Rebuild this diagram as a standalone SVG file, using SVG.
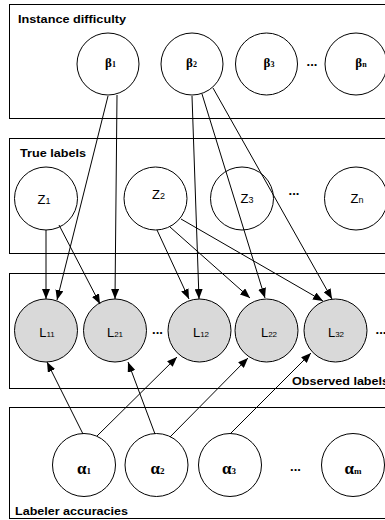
<svg xmlns="http://www.w3.org/2000/svg" width="385" height="520" viewBox="0 0 385 520">
<style>
.box{fill:#fff;stroke:#000;stroke-width:1}
.title{font-family:"Liberation Sans",Arial,sans-serif;font-weight:bold;font-size:11px;fill:#000}
.node{fill:#fff;stroke:#000;stroke-width:1}
.obs{fill:#d9d9d9;stroke:#000;stroke-width:1}
.gr{font-family:"Liberation Serif","Times New Roman",serif;font-weight:bold;fill:#000}
.lat{font-family:"Liberation Sans",Arial,sans-serif;fill:#000}
.dots{font-family:"Liberation Sans",Arial,sans-serif;font-weight:bold;font-size:13px;fill:#000}
.edge{stroke:#000;stroke-width:1;fill:none;marker-end:url(#ah)}
</style>
<defs>
<marker id="ah" markerUnits="userSpaceOnUse" markerWidth="11" markerHeight="8" refX="10" refY="4" orient="auto">
<path d="M0,0 L10,4 L0,8 z" fill="#000"/>
</marker>
</defs>
<rect width="385" height="520" fill="#fff"/>
<g id="plates">
<rect class="box" x="9.5" y="4.5" width="400" height="114"/>
<rect class="box" x="9.5" y="138.5" width="400" height="115"/>
<rect class="box" x="9.5" y="273.5" width="400" height="115"/>
<rect class="box" x="9.5" y="407.5" width="400" height="111"/>
<text class="title" x="18" y="23" textLength="108" lengthAdjust="spacingAndGlyphs">Instance difficulty</text>
<text class="title" x="20" y="157" textLength="66" lengthAdjust="spacingAndGlyphs">True labels</text>
<text class="title" x="292" y="385" textLength="97" lengthAdjust="spacingAndGlyphs">Observed labels</text>
<text class="title" x="15" y="515" textLength="113" lengthAdjust="spacingAndGlyphs">Labeler accuracies</text>
</g>
<g id="beta1"><circle class="node" cx="108" cy="64" r="31"/><text class="gr" x="110.5" y="67" font-size="13" text-anchor="middle">β<tspan font-size="8">1</tspan></text></g>
<g id="beta2"><circle class="node" cx="192" cy="64" r="31"/><text class="gr" x="191.5" y="67" font-size="13" text-anchor="middle">β<tspan font-size="8">2</tspan></text></g>
<g id="beta3"><circle class="node" cx="266.5" cy="64" r="31"/><text class="gr" x="269" y="67" font-size="13" text-anchor="middle">β<tspan font-size="8">3</tspan></text></g>
<g id="betan"><circle class="node" cx="356" cy="64" r="31"/><text class="gr" x="361" y="67" font-size="13" text-anchor="middle">β<tspan font-size="8">n</tspan></text></g>
<text class="dots" x="312" y="66" text-anchor="middle">...</text>
<g id="z1"><circle class="node" cx="46" cy="198.5" r="31.5"/><text class="lat" x="44" y="204" font-size="13" text-anchor="middle">Z<tspan font-size="9">1</tspan></text></g>
<g id="z2"><circle class="node" cx="155.5" cy="198.5" r="31.5"/><text class="lat" x="158.5" y="199" font-size="13" text-anchor="middle">Z<tspan font-size="9">2</tspan></text></g>
<g id="z3"><circle class="node" cx="242" cy="198.5" r="31.5"/><text class="lat" x="247" y="203" font-size="13" text-anchor="middle">Z<tspan font-size="9">3</tspan></text></g>
<g id="zn"><circle class="node" cx="356" cy="198.5" r="31.5"/><text class="lat" x="357" y="203" font-size="13" text-anchor="middle">Z<tspan font-size="9">n</tspan></text></g>
<text class="dots" x="294" y="195" text-anchor="middle">...</text>
<g id="l11"><circle class="obs" cx="46" cy="330.5" r="31.5"/><text class="lat" x="47" y="337" font-size="13" text-anchor="middle">L<tspan font-size="8">11</tspan></text></g>
<g id="l21"><circle class="obs" cx="115" cy="330.5" r="31.5"/><text class="lat" x="115" y="337" font-size="13" text-anchor="middle">L<tspan font-size="8">21</tspan></text></g>
<g id="l12"><circle class="obs" cx="199.5" cy="330.5" r="31.5"/><text class="lat" x="201" y="337" font-size="13" text-anchor="middle">L<tspan font-size="8">12</tspan></text></g>
<g id="l22"><circle class="obs" cx="266.5" cy="330.5" r="31.5"/><text class="lat" x="269" y="337" font-size="13" text-anchor="middle">L<tspan font-size="8">22</tspan></text></g>
<g id="l32"><circle class="obs" cx="335.5" cy="330.5" r="31.5"/><text class="lat" x="336" y="337" font-size="13" text-anchor="middle">L<tspan font-size="8">32</tspan></text></g>
<text class="dots" x="157.5" y="334" text-anchor="middle">...</text>
<text class="dots" x="381" y="334" text-anchor="middle">...</text>
<g id="a1"><circle class="node" cx="84" cy="465" r="31.5"/><text class="gr" x="84" y="474" font-size="17" text-anchor="middle">α<tspan font-size="9">1</tspan></text></g>
<g id="a2"><circle class="node" cx="156.5" cy="465" r="31.5"/><text class="gr" x="157.5" y="474" font-size="17" text-anchor="middle">α<tspan font-size="9">2</tspan></text></g>
<g id="a3"><circle class="node" cx="230" cy="465" r="31.5"/><text class="gr" x="229" y="474" font-size="17" text-anchor="middle">α<tspan font-size="9">3</tspan></text></g>
<g id="am"><circle class="node" cx="353" cy="465" r="31.5"/><text class="gr" x="353" y="474" font-size="17" text-anchor="middle">α<tspan font-size="9">m</tspan></text></g>
<text class="dots" x="295.5" y="471" text-anchor="middle">...</text>
<g id="connectors">
<line class="edge" x1="108" y1="96" x2="57" y2="300"/>
<line class="edge" x1="117" y1="95" x2="115" y2="299"/>
<line class="edge" x1="46" y1="230" x2="46" y2="299"/>
<line class="edge" x1="59" y1="225" x2="100" y2="304"/>
<line class="edge" x1="192" y1="96" x2="199" y2="299"/>
<line class="edge" x1="202" y1="94" x2="265" y2="298"/>
<line class="edge" x1="213" y1="88" x2="332" y2="299"/>
<line class="edge" x1="157" y1="230" x2="189" y2="299"/>
<line class="edge" x1="170" y1="227" x2="250" y2="298"/>
<line class="edge" x1="181" y1="219" x2="323" y2="301"/>
<line class="edge" x1="83" y1="434" x2="47" y2="362"/>
<line class="edge" x1="97" y1="436" x2="177" y2="357"/>
<line class="edge" x1="155" y1="434" x2="128" y2="362"/>
<line class="edge" x1="170" y1="437" x2="248" y2="358"/>
<line class="edge" x1="230" y1="434" x2="311" y2="353"/>
</g>
</svg>
